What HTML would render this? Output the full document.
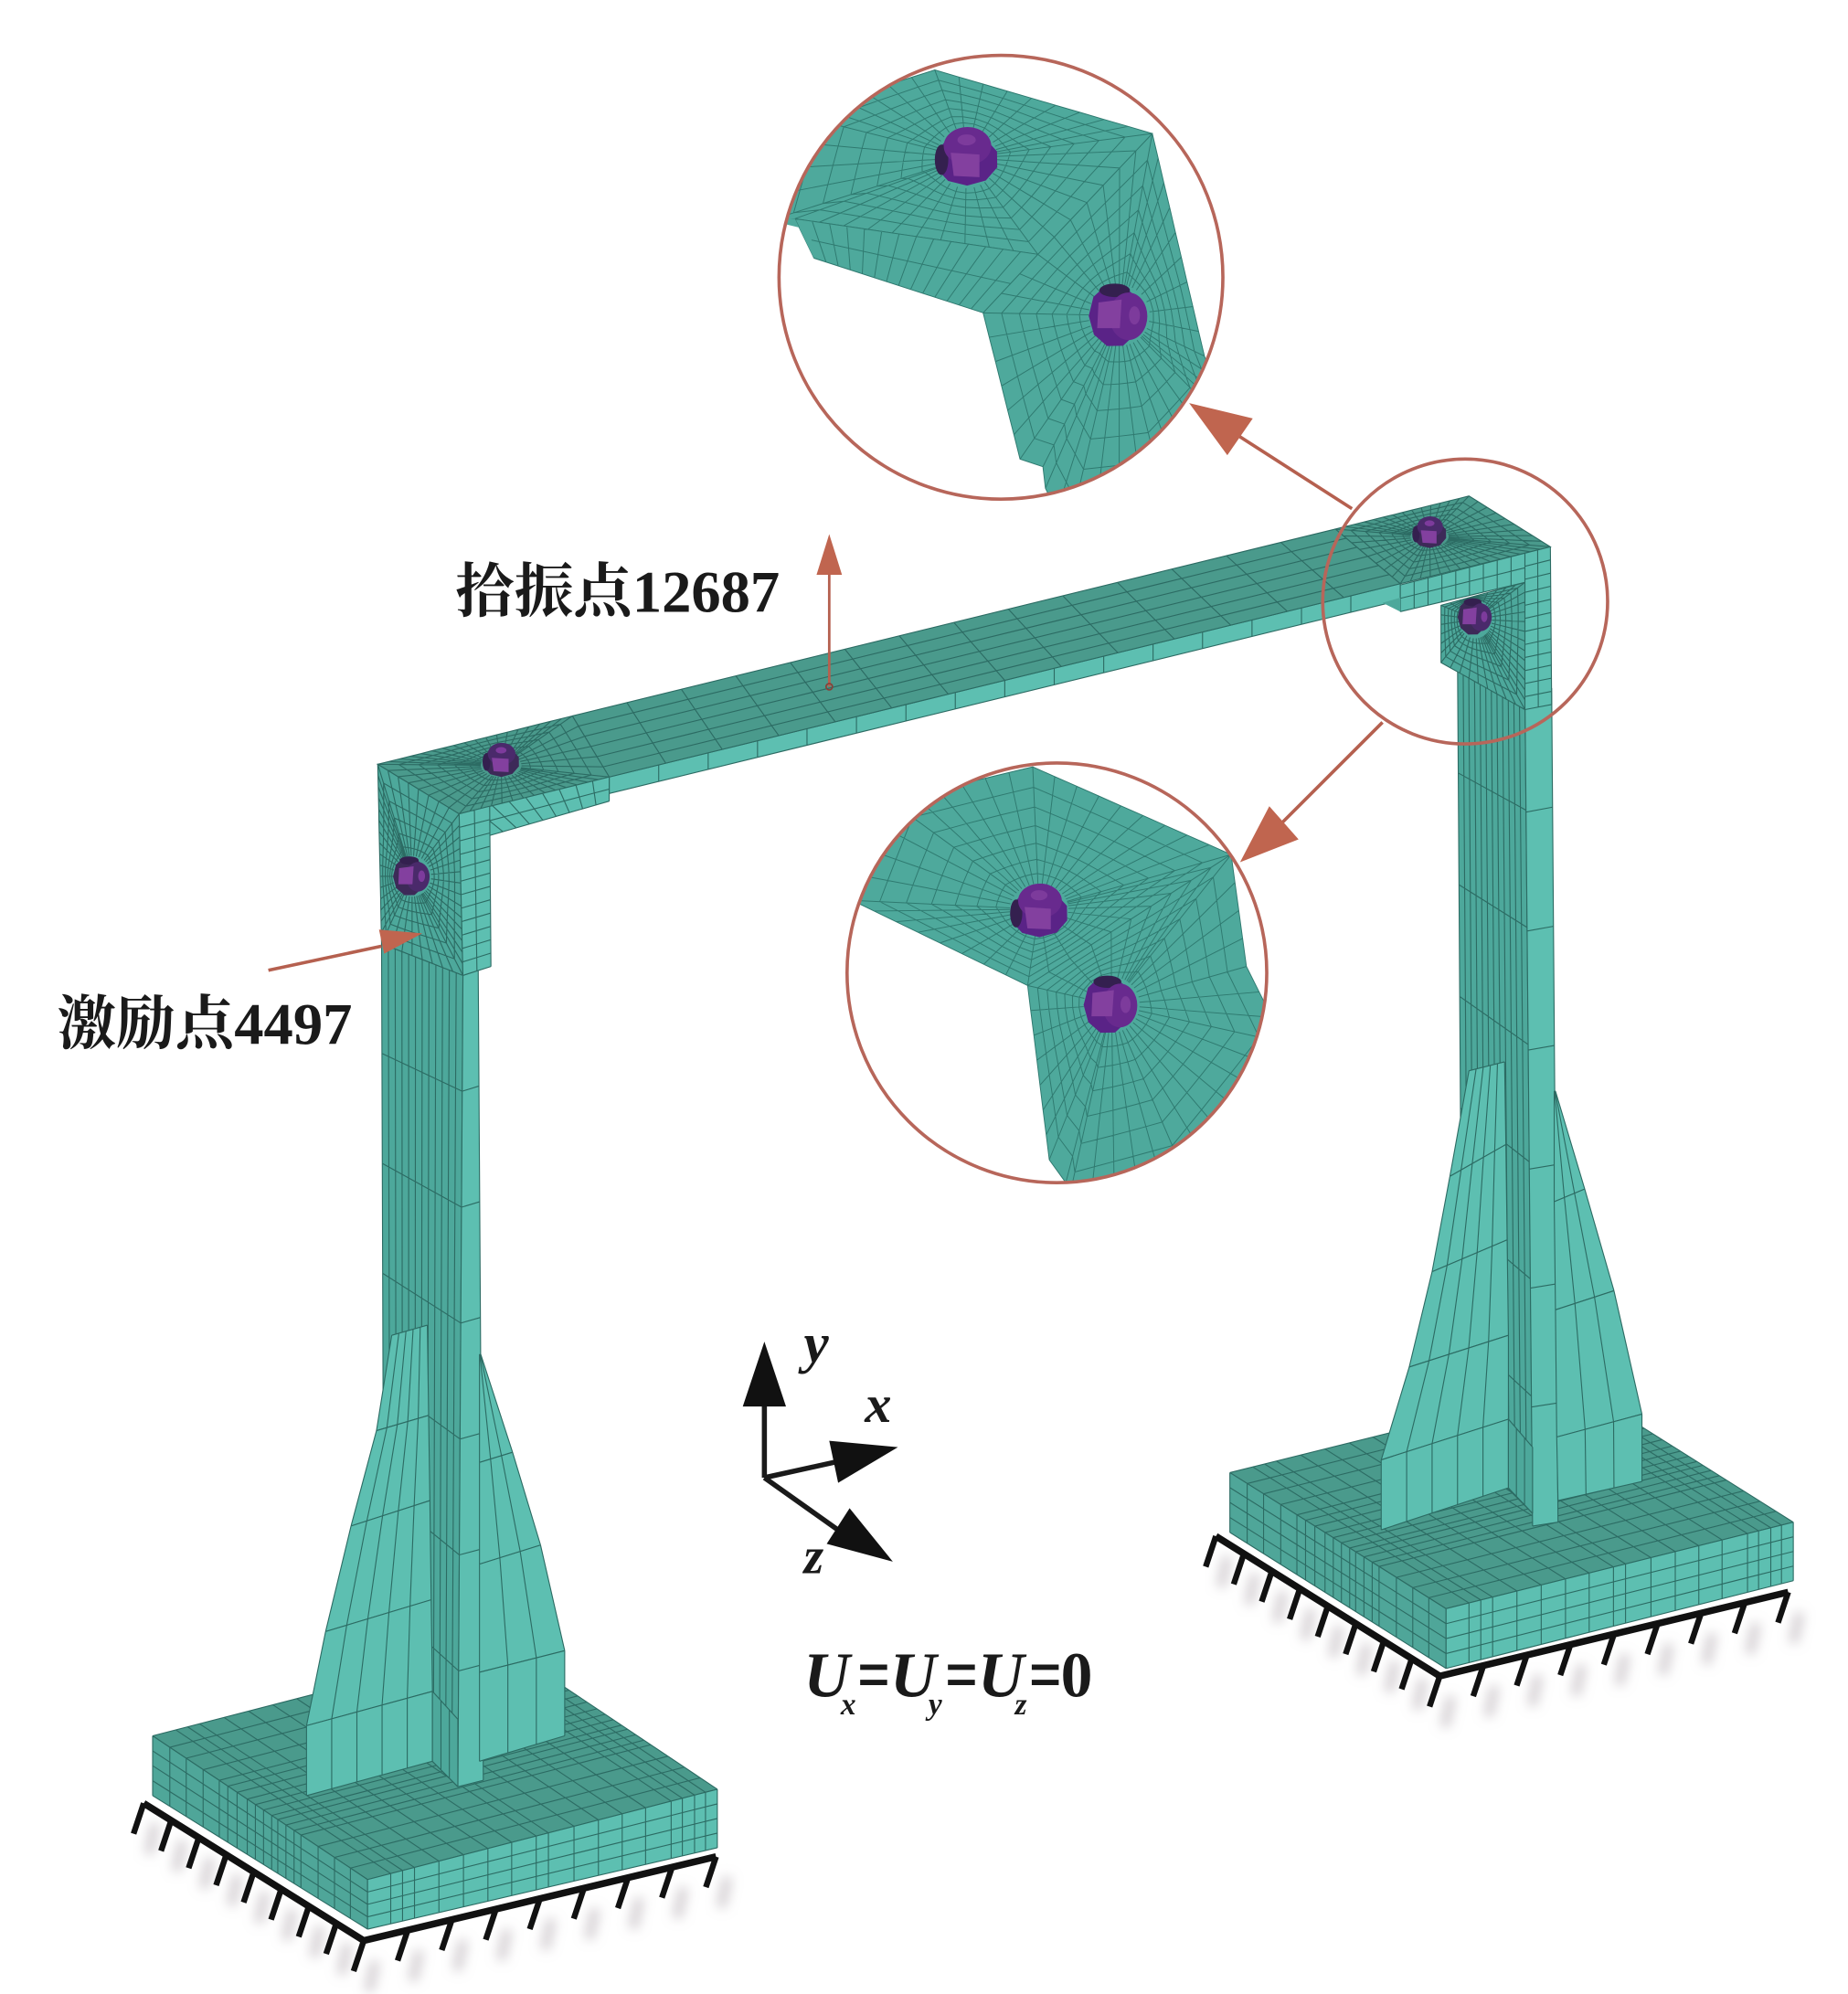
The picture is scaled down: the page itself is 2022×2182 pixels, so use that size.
<!DOCTYPE html>
<html lang="zh">
<head>
<meta charset="utf-8">
<title>Frame model</title>
<style>
html,body{margin:0;padding:0;background:#fff;width:2022px;height:2182px;overflow:hidden}
svg{display:block}
text{font-family:"Liberation Serif","Noto Serif CJK SC",serif;fill:#1a1a1a}
.cn{font-size:46.4px;font-weight:700}
.bi{font-weight:700;font-style:italic}
</style>
</head>
<body>
<svg xmlns="http://www.w3.org/2000/svg" width="2022" height="2182" viewBox="0 0 1453 1568">
<defs>
<clipPath id="c1"><circle cx="787" cy="218" r="174"/></clipPath>
<clipPath id="c2"><circle cx="831" cy="765" r="165"/></clipPath>
<filter id="bl" x="-50%" y="-50%" width="200%" height="200%"><feGaussianBlur stdDeviation="4.5"/></filter>
</defs>
<g id="shadow" filter="url(#bl)"></g>
<g id="ticks"></g>
<g id="frame"></g>
<g id="ins1" clip-path="url(#c1)"></g>
<g id="ins2" clip-path="url(#c2)"></g>

<g fill="none" stroke="#b7665a" stroke-width="2.6">
<circle cx="787" cy="218" r="174.5"/>
<circle cx="831" cy="765" r="165"/>
<circle cx="1152" cy="473" r="112"/>
</g>
<g stroke="#b5604f" stroke-width="2.6" fill="none">
<line x1="1063" y1="400" x2="968" y2="339"/>
<line x1="1087" y1="568" x2="1005" y2="650"/>
<line x1="652" y1="540" x2="652" y2="445" stroke-width="2"/>
<line x1="211" y1="763" x2="300" y2="744"/>
</g>
<g fill="#c0654f">
<polygon points="935,317 985,329 965,358"/>
<polygon points="975,678 998,634 1021,660"/>
<polygon points="652,420 642,452 662,452"/>
<polygon points="298,731 302,750 332,734"/>
</g>
<circle cx="652" cy="540" r="2.5" fill="none" stroke="#8a3f36" stroke-width="1.2"/>

<text class="cn" x="358" y="481">拾振点12687</text>
<text class="cn" x="45" y="821">激励点4497</text>

<g stroke="#1a1a1a" stroke-width="4" fill="none">
<line x1="601" y1="1100" x2="601" y2="1162"/>
<line x1="601" y1="1162" x2="660" y2="1149"/>
<line x1="601" y1="1162" x2="663" y2="1206"/>
</g>
<g fill="#111">
<polygon points="601,1055 584,1106 618,1106"/>
<polygon points="706,1138 652,1133 659,1166"/>
<polygon points="702,1228 668,1186 650,1214"/>
</g>
<text class="bi" x="632" y="1071" font-size="44">y</text>
<text class="bi" x="680" y="1118" font-size="42">x</text>
<text class="bi" x="632" y="1237" font-size="40">z</text>

<text class="bi" x="632" y="1334" font-size="50">U</text>
<text class="bi" x="661" y="1348" font-size="24">x</text>
<text font-weight="700" x="674" y="1337" font-size="60" textLength="26" lengthAdjust="spacingAndGlyphs">=</text>
<text class="bi" x="700" y="1334" font-size="50">U</text>
<text class="bi" x="730" y="1348" font-size="24">y</text>
<text font-weight="700" x="743" y="1337" font-size="60" textLength="26" lengthAdjust="spacingAndGlyphs">=</text>
<text class="bi" x="769" y="1334" font-size="50">U</text>
<text class="bi" x="798" y="1348" font-size="24">z</text>
<text font-weight="700" x="809" y="1337" font-size="60" textLength="26" lengthAdjust="spacingAndGlyphs">=</text>
<text font-weight="700" x="834" y="1334" font-size="50">0</text>
</svg>

<script>
(function(){
var out='',MESH='#2c6b63',W=0.8;
function f(n){return Math.round(n*10)/10}
function pts(a){return a.map(function(p){return f(p[0])+','+f(p[1])}).join(' ')}
function fr(n){if(typeof n!=='number')return n;var r=[];for(var i=0;i<=n;i++)r.push(i/n);return r}
function grid(a,b,c,d,us,vs,fill,sw){
  us=fr(us);vs=fr(vs);
  function P(u,v){return [a[0]*(1-u)*(1-v)+b[0]*u*(1-v)+c[0]*u*v+d[0]*(1-u)*v,
                          a[1]*(1-u)*(1-v)+b[1]*u*(1-v)+c[1]*u*v+d[1]*(1-u)*v]}
  var s='';
  us.forEach(function(u){var p=P(u,0),q=P(u,1);s+='M'+f(p[0])+' '+f(p[1])+'L'+f(q[0])+' '+f(q[1])});
  vs.forEach(function(v){var p=P(0,v),q=P(1,v);s+='M'+f(p[0])+' '+f(p[1])+'L'+f(q[0])+' '+f(q[1])});
  out+='<polygon points="'+pts([a,b,c,d])+'" fill="'+fill+'"/><path d="'+s+'" fill="none" stroke="'+MESH+'" stroke-width="'+(sw||W)+'"/>';
}
function stack(rows,nu,fill){
  for(var i=0;i<rows.length-1;i++){
    grid(rows[i][0],rows[i][1],rows[i+1][1],rows[i+1][0],nu,1,fill);
  }
}
function radial(poly,cx,cy,rx,ry,step,rings,fill,sw){
  var per=[],n=poly.length;
  for(var i=0;i<n;i++){
    var a=poly[i],b=poly[(i+1)%n],l=Math.hypot(b[0]-a[0],b[1]-a[1]),m=Math.max(1,Math.round(l/step));
    for(var j=0;j<m;j++)per.push([a[0]+(b[0]-a[0])*j/m,a[1]+(b[1]-a[1])*j/m]);
  }
  var inner=per.map(function(p){var t=Math.atan2((p[1]-cy)/ry,(p[0]-cx)/rx);return [cx+rx*Math.cos(t),cy+ry*Math.sin(t)]});
  var s='';
  per.forEach(function(p,k){s+='M'+f(inner[k][0])+' '+f(inner[k][1])+'L'+f(p[0])+' '+f(p[1])});
  for(var r=1;r<=rings;r++){
    var t=Math.pow(r/rings,1.25);
    per.forEach(function(p,k){
      var x=inner[k][0]+(p[0]-inner[k][0])*t,y=inner[k][1]+(p[1]-inner[k][1])*t;
      s+=(k?'L':'M')+f(x)+' '+f(y);
    });
    s+='Z';
  }
  out+='<polygon points="'+pts(poly)+'" fill="'+fill+'"/><path d="'+s+'" fill="none" stroke="'+MESH+'" stroke-width="'+(sw||W)+'"/>';
}
function bolt(cx,cy,r,rot,dark){
  var g='<g transform="translate('+cx+' '+cy+') rotate('+rot+')">';
  var pr=[];
  for(var i=0;i<10;i++){var a=Math.PI*2*i/10+.3;pr.push([r*1.05*Math.cos(a),r*.15+r*.85*Math.sin(a)])}
  g+='<polygon points="'+pts(pr)+'" fill="'+(dark?'#3d2a58':'#5a2387')+'"/>';
  g+='<ellipse cx="'+f(-r*.82)+'" cy="'+f(r*.15)+'" rx="'+f(r*.22)+'" ry="'+f(r*.5)+'" fill="#34204f"/>';
  g+='<ellipse cx="'+f(r*.03)+'" cy="'+f(-r*.3)+'" rx="'+f(r*.78)+'" ry="'+f(r*.62)+'" fill="'+(dark?'#4a2a6b':'#682a8e')+'"/>';
  g+='<polygon points="'+f(-r*.52)+','+f(-r*.08)+' '+f(r*.42)+','+f(-r*.02)+' '+f(r*.42)+','+f(r*.72)+' '+f(-r*.42)+','+f(r*.68)+'" fill="#83409f"/>';
  g+='<ellipse cx="0" cy="'+f(-r*.5)+'" rx="'+f(r*.3)+'" ry="'+f(r*.18)+'" fill="#7d3b9c"/>';
  g+='</g>';
  out+=g;
}
var TOP='#4a9a8c',LEFT='#4fa699',RIGHT='#5dbfb1',DARK='#4da89b';
var UL=[0,.08,.156,.235,.31,.35,.393,.44,.478,.516,.554,.582,.62,.658,.69,.77,.846,.92,1];
var UR=[0,.066,.1,.134,.204,.274,.344,.412,.482,.517,.59,.66,.728,.795,.868,.9,.935,.966,1];
var RW=[0,.25,.5,.75,1];

function base(LT,FT,RT,LB,FB,RB){
  var BK=[LT[0]+RT[0]-FT[0],LT[1]+RT[1]-FT[1]];
  grid(LT,FT,RT,BK,UL,UR,TOP);
  grid(LT,FT,FB,LB,UL,RW,LEFT);
  grid(FT,RT,RB,FB,UR,RW,RIGHT);
}
function ticks(A,C,B){
  var sh='',t='';
  function tick(x,y){
    t+='<line x1="'+f(x)+'" y1="'+f(y)+'" x2="'+f(x-8)+'" y2="'+f(y+24)+'"/>';
    sh+='<line x1="'+f(x+9)+'" y1="'+f(y+16)+'" x2="'+f(x+4)+'" y2="'+f(y+40)+'"/>';
  }
  for(var i=0;i<=8;i++){tick(A[0]+(C[0]-A[0])*i/8,A[1]+(C[1]-A[1])*i/8)}
  for(i=1;i<=8;i++){tick(C[0]+(B[0]-C[0])*i/8,C[1]+(B[1]-C[1])*i/8)}
  t+='<polyline points="'+pts([A,C,B])+'" fill="none" stroke-width="5.4"/>';
  document.getElementById('shadow').innerHTML+='<g stroke="#a89fa6" stroke-width="7" stroke-opacity=".55">'+sh+'</g>';
  document.getElementById('ticks').innerHTML+='<g stroke="#111" stroke-width="4.6">'+t+'</g>';
}
ticks([113,1418],[286,1526],[563,1460]);
ticks([956,1208],[1132,1318],[1406,1252]);

/* ---------- feet ---------- */
base([120,1365],[289,1478],[564,1407],[120,1412],[289,1517],[564,1453]);
base([967,1158],[1137,1265],[1410,1197],[967,1205],[1137,1312],[1410,1243]);

/* ---------- left column ---------- */
grid([300,742],[364,767],[360,1405],[302,1347],12,7,DARK);
grid([364,767],[376,763],[380,1400],[360,1405],1,7,RIGHT);
stack([[[377,1065],[378,1065]],[[377,1150],[403,1142]],[[377,1230],[425,1215]],[[377,1315],[444,1298]],[[377,1385],[444,1365]]],3,RIGHT);
stack([[[308,1050],[336,1042]],[[296,1125],[337,1113]],[[276,1200],[338,1180]],[[256,1283],[339,1258]],[[241,1357],[340,1330]],[[241,1412],[340,1385]]],5,RIGHT);
grid([340,1330],[360,1352],[360,1405],[340,1385],3,1,DARK);

/* ---------- right column ---------- */
grid([1146,520],[1199,545],[1205,1190],[1150,1135],12,7,DARK);
grid([1199,545],[1220,541],[1225,1197],[1205,1200],1,7,RIGHT);
stack([[[1222,858],[1223,858]],[[1222,945],[1246,935]],[[1223,1030],[1269,1015]],[[1224,1130],[1291,1112]],[[1225,1180],[1291,1165]]],3,RIGHT);
stack([[[1155,842],[1183,835]],[[1140,925],[1184,900]],[[1126,1000],[1185,975]],[[1108,1075],[1186,1050]],[[1086,1148],[1186,1116]],[[1086,1203],[1186,1170]]],5,RIGHT);
grid([1186,1116],[1205,1138],[1205,1190],[1186,1170],3,1,DARK);

/* ---------- beam ---------- */
grid([479,611],[1101,459],[1101,472],[479,624],16,1,RIGHT);
grid([450,563],[1050,416],[1101,459],[479,611],14,6,TOP);
radial([[297,601],[450,563],[479,611],[361,640]],394,602,16,9,9,6,TOP);
radial([[1050,416],[1155,390],[1219,430],[1101,459]],1124,422,15,8,8,6,TOP);
/* left corner */
radial([[297,601],[361,640],[364,767],[300,742]],324,689,15,16,9,6,DARK);
grid([361,640],[479,611],[479,630],[385,657],9,2,RIGHT);
grid([361,640],[385,634],[386,760],[364,767],2,12,RIGHT);
/* right corner */
grid([1101,460],[1199,435],[1199,458],[1101,481],9,2,RIGHT);
radial([[1133,476],[1199,458],[1199,558],[1133,521]],1160,487,13,15,8,6,DARK);
grid([1199,435],[1219,430],[1220,554],[1199,558],2,12,RIGHT);
out+='<polygon points="1087,474 1101,481 1101,470" fill="'+DARK+'"/>';
bolt(394,597,14,0,true);
bolt(324,689,15,90,true);
bolt(1124,418,13,0,true);
bolt(1160,485,14,90,true);
document.getElementById('frame').innerHTML=out;

/* ---------- inset 1 ---------- */
out='';MESH='#2f7a70';
var I1='#4ea99c';
radial([[773,246],[816,200],[906,105],[947,280],[975,345],[920,410],[840,420],[822,384],[820,367],[802,361]],880,248,24,24,20,7,I1,.7);
radial([[600,175],[625,90],[735,55],[906,105],[816,200],[625,172]],760,124,24,24,20,7,I1,.7);
grid([625,172],[816,200],[773,246],[640,203],14,2,I1,.7);
out+='<polygon points="600,172 625,172 640,203 637,181" fill="'+I1+'"/>';
bolt(760,122,24,0,false);
bolt(880,248,24,90,false);
document.getElementById('ins1').innerHTML=out;

/* ---------- inset 2 ---------- */
out='';
radial([[670,708],[700,630],[812,603],[968,672],[858,743],[808,775]],817,715,23,20,20,7,I1,.7);
radial([[808,775],[858,743],[968,672],[980,760],[1010,820],[930,920],[840,945],[838,930],[825,912]],874,790,22,22,20,7,I1,.7);
bolt(817,715,22,0,false);
bolt(874,790,22,90,false);
document.getElementById('ins2').innerHTML=out;
})();
</script>
</body>
</html>
